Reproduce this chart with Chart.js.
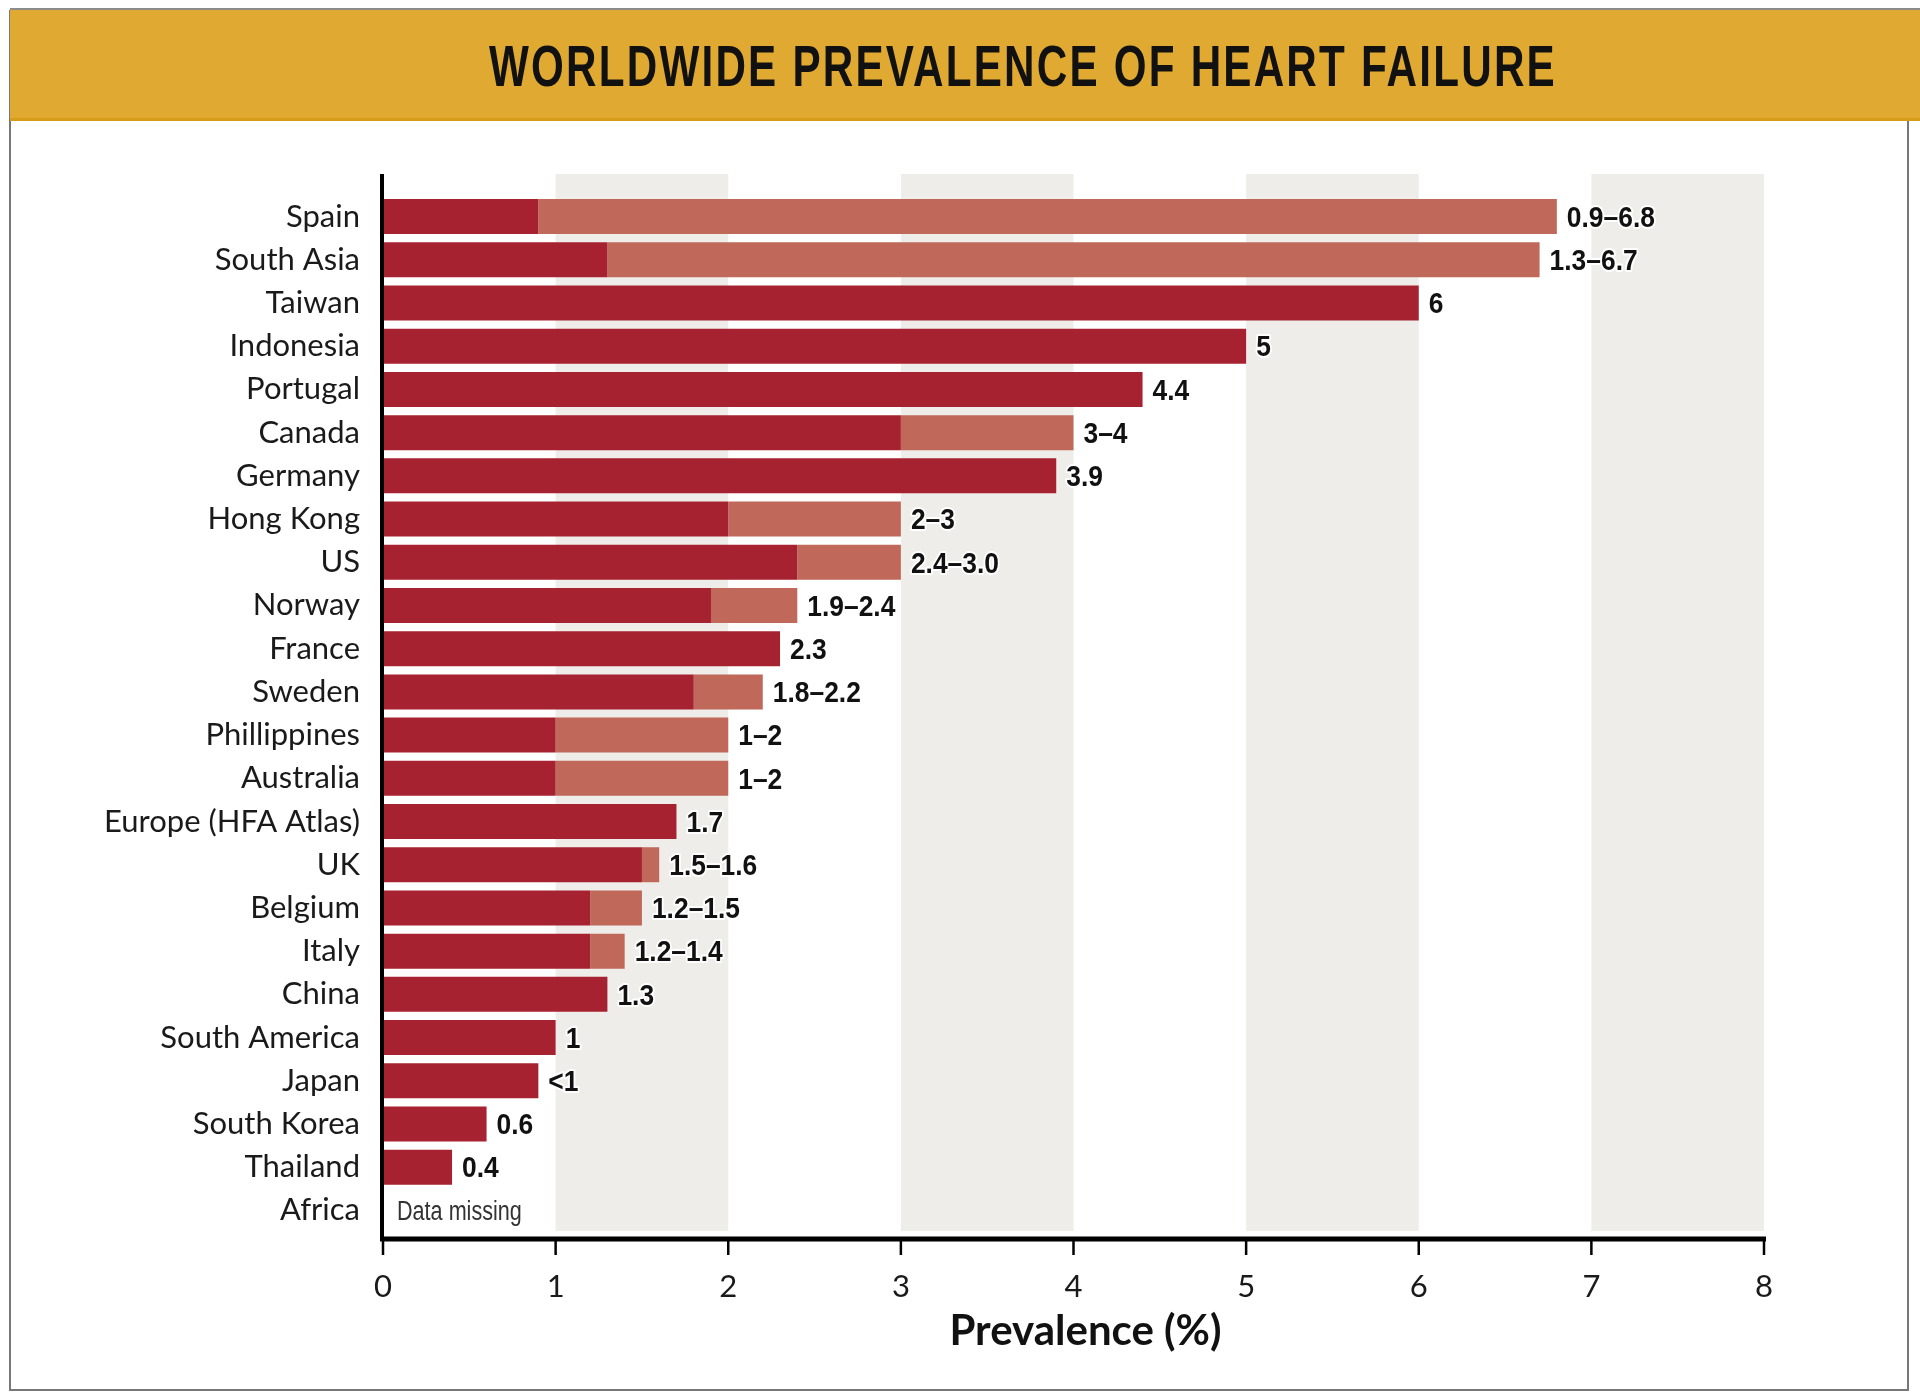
<!DOCTYPE html>
<html>
<head>
<meta charset="utf-8">
<title>Worldwide prevalence of heart failure</title>
<script src="https://cdn.jsdelivr.net/npm/chart.js@4.4.1/dist/chart.umd.min.js"></script>
<style>
  body { margin: 0; background: #fff; width: 1920px; height: 1400px; position: relative; overflow: hidden; }
  #frame { position: absolute; left: 9px; top: 10px; width: 1900px; height: 1381px; border: 2px solid #777; box-sizing: border-box; }
  #banner { position: absolute; left: 10px; top: 8px; width: 1910px; height: 113px; background: #e0aa32; border-top: 2px solid #8c8c8c; border-bottom: 3px solid #d69b17; box-sizing: border-box; }
  #title { position: absolute; left: 1023px; top: 35px; white-space: nowrap; transform: translateX(-50%) scaleX(0.74);
           font-family: 'Liberation Sans', Arial, sans-serif; font-weight: bold; font-size: 57px; line-height: 62px; letter-spacing: 3px; color: #111; }
  #wrap { position: absolute; left: 12px; top: 122px; width: 1894px; height: 1266px; }
</style>
</head>
<body>
<div id="frame"></div>
<div id="banner"></div>
<div id="title">WORLDWIDE PREVALENCE OF HEART FAILURE</div>
<div id="wrap"><canvas id="chart"></canvas></div>
<script>
// data (percent)
const categories = ['Spain', 'South Asia', 'Taiwan', 'Indonesia', 'Portugal', 'Canada', 'Germany', 'Hong Kong', 'US',
  'Norway', 'France', 'Sweden', 'Phillippines', 'Australia', 'Europe (HFA Atlas)', 'UK', 'Belgium', 'Italy', 'China',
  'South America', 'Japan', 'South Korea', 'Thailand', 'Africa'];
const lowValues = [0.9, 1.3, 6, 5, 4.4, 3, 3.9, 2, 2.4, 1.9, 2.3, 1.8, 1, 1, 1.7, 1.5, 1.2, 1.2, 1.3, 1, 0.9, 0.6, 0.4, null];
const highValues = [6.8, 6.7, null, null, null, 4, null, 3, 3.0, 2.4, null, 2.2, 2, 2, null, 1.6, 1.5, 1.4, null, null, null, null, null, null];
const valueLabels = ['0.9–6.8', '1.3–6.7', '6', '5', '4.4', '3–4', '3.9', '2–3', '2.4–3.0', '1.9–2.4', '2.3', '1.8–2.2',
  '1–2', '1–2', '1.7', '1.5–1.6', '1.2–1.5', '1.2–1.4', '1.3', '1', '<1', '0.6', '0.4', 'Data missing'];
const xTicks = [0, 1, 2, 3, 4, 5, 6, 7, 8];
const shadedBands = [[1, 2], [3, 4], [5, 6], [7, 8]];
const axisTitle = 'Prevalence (%)';

const darkRed = '#a62230';
const lightRed = '#c0695a';

// light part of the bar is the range on top of the low value
const rangeValues = highValues.map((h, i) => (h == null ? null : h - lowValues[i]));

// grey vertical bands behind the bars
const bandsPlugin = {
  id: 'bands',
  beforeDatasetsDraw(chart) {
    const { ctx, chartArea, scales } = chart;
    ctx.save();
    ctx.fillStyle = '#eeede9';
    shadedBands.forEach(([a, b]) => {
      const x1 = scales.x.getPixelForValue(a);
      const x2 = scales.x.getPixelForValue(b);
      ctx.fillRect(x1, chartArea.top - 21, x2 - x1, chartArea.bottom - chartArea.top + 20);
    });
    ctx.restore();
  }
};

// condensed-looking text: squeeze horizontally around the anchor
function squeezedText(ctx, text, x, y, sx, halo) {
  ctx.save();
  ctx.translate(x, y);
  ctx.scale(sx, 1);
  if (halo) {
    ctx.lineWidth = 4;
    ctx.strokeStyle = '#fff';
    ctx.lineJoin = 'round';
    ctx.strokeText(text, 0, 0);
  }
  ctx.fillText(text, 0, 0);
  ctx.restore();
}

// axis lines, tick marks, value labels and axis title
const annotatePlugin = {
  id: 'annotate',
  afterDatasetsDraw(chart) {
    const { ctx, chartArea, scales } = chart;
    const x = scales.x, y = scales.y;
    const axisY = chartArea.bottom + 7;
    ctx.save();
    ctx.strokeStyle = '#000';
    ctx.lineWidth = 4;
    ctx.beginPath();
    ctx.moveTo(chartArea.left - 1, chartArea.top - 21);
    ctx.lineTo(chartArea.left - 1, axisY);
    ctx.stroke();
    ctx.lineWidth = 5;
    ctx.beginPath();
    ctx.moveTo(chartArea.left - 3, axisY);
    ctx.lineTo(x.getPixelForValue(8) + 2, axisY);
    ctx.stroke();
    ctx.lineWidth = 2.5;
    xTicks.forEach(t => {
      const px = x.getPixelForValue(t);
      ctx.beginPath();
      ctx.moveTo(px, axisY);
      ctx.lineTo(px, axisY + 16);
      ctx.stroke();
    });

    ctx.textBaseline = 'middle';
    ctx.textAlign = 'left';
    categories.forEach((c, i) => {
      const py = y.getPixelForValue(i) + 2;
      if (lowValues[i] == null) {
        ctx.font = '27px "Liberation Sans", Arial, sans-serif';
        ctx.fillStyle = '#333';
        squeezedText(ctx, valueLabels[i], x.getPixelForValue(0) + 14, py, 0.8, false);
        return;
      }
      const end = highValues[i] != null ? highValues[i] : lowValues[i];
      const px = x.getPixelForValue(end) + 10;
      ctx.font = 'bold 30px "Liberation Sans", Arial, sans-serif';
      ctx.fillStyle = '#111';
      squeezedText(ctx, valueLabels[i], px, py, 0.88, true);
    });

    // axis title, centred a little right of the plot centre as in the figure
    ctx.textAlign = 'center';
    ctx.font = 'bold 42px Lato, sans-serif';
    ctx.fillStyle = '#111';
    ctx.fillText(axisTitle, (chartArea.left + chartArea.right) / 2 + 12, axisY + 92);
    ctx.restore();
  }
};

new Chart(document.getElementById('chart'), {
  type: 'bar',
  data: {
    labels: categories,
    datasets: [
      { label: 'Low', data: lowValues, backgroundColor: darkRed, barPercentage: 0.81, categoryPercentage: 1 },
      { label: 'Range', data: rangeValues, backgroundColor: lightRed, barPercentage: 0.81, categoryPercentage: 1 }
    ]
  },
  options: {
    indexAxis: 'y',
    responsive: true,
    maintainAspectRatio: false,
    animation: false,
    layout: { padding: { top: 73, right: 142, left: 0, bottom: 0 } },
    plugins: { legend: { display: false }, tooltip: { enabled: false } },
    scales: {
      x: {
        stacked: true,
        min: 0,
        max: 8,
        grid: { display: false, drawTicks: false },
        border: { display: false },
        ticks: { stepSize: 1, padding: 36, color: '#1a1a1a', font: { family: 'Lato', size: 31 } },
        afterFit: s => { s.height = 156; }
      },
      y: {
        stacked: true,
        grid: { display: false, drawTicks: false },
        border: { display: false },
        ticks: { padding: 23, autoSkip: false, color: '#1a1a1a', font: { family: 'Lato', size: 31 } },
        afterFit: s => { s.width = 371; }
      }
    }
  },
  plugins: [bandsPlugin, annotatePlugin]
});
</script>
</body>
</html>
